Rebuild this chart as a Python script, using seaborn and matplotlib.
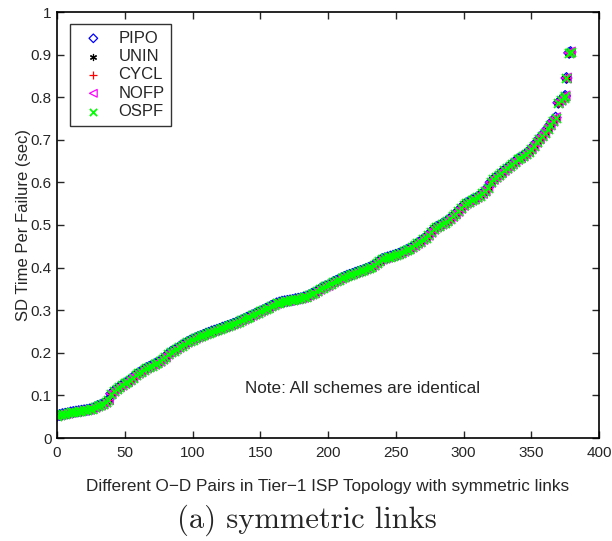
import matplotlib
matplotlib.use("Agg")
import matplotlib.pyplot as plt
import seaborn as sns
import pandas as pd

# ---- data ----
od_index = list(range(0, 370, 2)) + [370, 372, 374, 375, 376, 378, 379]
sd_time = [
    0.052, 0.054, 0.056, 0.057, 0.058, 0.060, 0.061, 0.062, 0.063, 0.064,
    0.065, 0.066, 0.067, 0.069, 0.072, 0.075, 0.077, 0.080, 0.084, 0.090,
    0.104, 0.110, 0.115, 0.120, 0.124, 0.128, 0.132, 0.137, 0.142, 0.148,
    0.152, 0.156, 0.160, 0.164, 0.167, 0.170, 0.173, 0.177, 0.180, 0.185,
    0.190, 0.197, 0.202, 0.205, 0.209, 0.213, 0.217, 0.221, 0.225, 0.228,
    0.231, 0.234, 0.237, 0.239, 0.242, 0.245, 0.247, 0.250, 0.252, 0.254,
    0.256, 0.259, 0.261, 0.263, 0.265, 0.268, 0.270, 0.273, 0.276, 0.279,
    0.282, 0.285, 0.288, 0.291, 0.294, 0.297, 0.300, 0.303, 0.306, 0.310,
    0.313, 0.316, 0.318, 0.320, 0.321, 0.322, 0.323, 0.324, 0.326, 0.327,
    0.328, 0.330, 0.332, 0.335, 0.338, 0.341, 0.345, 0.349, 0.353, 0.356,
    0.358, 0.362, 0.366, 0.369, 0.372, 0.375, 0.378, 0.381, 0.383, 0.385,
    0.388, 0.390, 0.392, 0.394, 0.397, 0.399, 0.402, 0.406, 0.411, 0.416,
    0.420, 0.422, 0.424, 0.426, 0.428, 0.430, 0.432, 0.435, 0.438, 0.441,
    0.444, 0.448, 0.452, 0.457, 0.461, 0.466, 0.470, 0.476, 0.483, 0.490,
    0.495, 0.498, 0.502, 0.505, 0.510, 0.515, 0.520, 0.526, 0.532, 0.539,
    0.546, 0.551, 0.554, 0.558, 0.561, 0.565, 0.569, 0.574, 0.580, 0.588,
    0.600, 0.607, 0.612, 0.617, 0.623, 0.628, 0.633, 0.638, 0.643, 0.649,
    0.654, 0.658, 0.662, 0.667, 0.672, 0.679, 0.686, 0.694, 0.703, 0.710,
    0.717, 0.726, 0.735, 0.744, 0.752,
    0.787, 0.793, 0.799, 0.803, 0.845, 0.904, 0.906,
]
schemes = ["PIPO", "UNIN", "CYCL", "NOFP", "OSPF"]
# all schemes are identical in the reference
scheme_values = {s: sd_time for s in schemes}

x_ticks = [0, 50, 100, 150, 200, 250, 300, 350, 400]
y_ticks = [0, 0.1, 0.2, 0.3, 0.4, 0.5, 0.6, 0.7, 0.8, 0.9, 1]
y_tick_labels = ["0", "0.1", "0.2", "0.3", "0.4", "0.5", "0.6", "0.7", "0.8", "0.9", "1"]

# ---- styling ----
sns.set_style("white")
plt.rcParams["font.family"] = ["Liberation Sans", "DejaVu Sans"]

fig = plt.figure(figsize=(6.12, 5.41), dpi=100)
ax = fig.add_axes([57 / 612, 1 - 438 / 541, 542 / 612, 426 / 541])

styles = {
    "PIPO": dict(marker="D", facecolor="none", edgecolor="#0000ff", s=30, linewidth=0.9),
    "UNIN": dict(marker=(6, 2, 0), color="black", s=30, linewidth=0.9),
    "CYCL": dict(marker="+", color="#ff0000", s=40, linewidth=0.9),
    "NOFP": dict(marker="<", facecolor="none", edgecolor="#ff00ff", s=48, linewidth=0.9),
    "OSPF": dict(marker="x", color="#00ff00", s=42, linewidth=1.3),
}

for s in schemes:
    df = pd.DataFrame({"x": od_index, "y": scheme_values[s]})
    sns.scatterplot(data=df, x="x", y="y", ax=ax, label=s, **styles[s])

ax.set_xlim(0, 400)
ax.set_ylim(0, 1)
ax.set_xticks(x_ticks)
ax.set_xticklabels([str(t) for t in x_ticks])
ax.set_yticks(y_ticks)
ax.set_yticklabels(y_tick_labels)
ax.tick_params(direction="in", length=5, width=1, labelsize=11,
               top=True, right=True, bottom=True, left=True, pad=4)
ax.tick_params(axis="x", pad=6)
for sp in ax.spines.values():
    sp.set_linewidth(1.2)
    sp.set_color("black")

ax.set_xlabel("Different O\u2212D Pairs in Tier\u22121 ISP Topology with symmetric links",
              fontsize=12.3)
ax.xaxis.set_label_coords(0.5, -(487 - 438) / 426, transform=ax.transAxes)
ax.xaxis.label.set_va("center")
ax.set_ylabel("SD Time Per Failure (sec)", fontsize=12)
ax.yaxis.set_label_coords(-(57 - 24) / 542, 0.5, transform=ax.transAxes)
ax.yaxis.label.set_va("center")

ax.text(139, 0.117, "Note: All schemes are identical", fontsize=12.3, va="center")

leg = ax.legend(loc="upper left", bbox_to_anchor=(13 / 542, 1 - 12 / 426),
                frameon=True, fancybox=False, fontsize=12, borderpad=0.4,
                labelspacing=0.2, handletextpad=0.5, handlelength=2.0,
                borderaxespad=0, markerscale=0.8)
leg.get_frame().set_edgecolor("black")
leg.get_frame().set_linewidth(1.0)

fig.text(307 / 612, 1 - 520 / 541, "(a) symmetric links", family="cmr10",
         fontsize=22, ha="center", va="center")

fig.savefig("out.png", dpi=100)
